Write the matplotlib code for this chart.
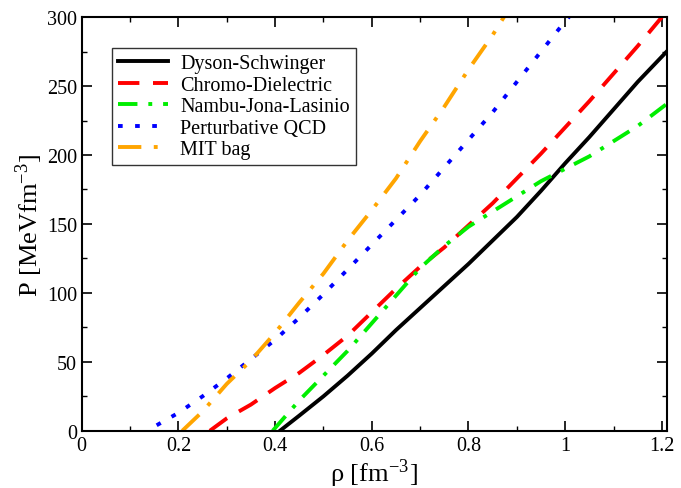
import matplotlib
matplotlib.use("Agg")
import matplotlib.pyplot as plt
import numpy as np

plt.rcParams["font.family"] = ["Liberation Serif", "DejaVu Serif"]
plt.rcParams["mathtext.fontset"] = "stix"

# Dyson-Schwinger
ds_rho = [0.41, 0.45, 0.5, 0.55, 0.6, 0.65, 0.7, 0.75, 0.8, 0.85, 0.9, 0.95,
          1.0, 1.05, 1.1, 1.15, 1.21]
ds_p = [0, 11, 25, 40, 56, 73, 89, 105, 121, 138, 155, 174,
        194, 213, 233, 253, 275]

# Chromo-Dielectric
cd_rho = [0.265, 0.3, 0.35, 0.4, 0.45, 0.5, 0.55, 0.6, 0.65, 0.7, 0.75, 0.8,
          0.85, 0.9, 0.95, 1.0, 1.05, 1.1, 1.15, 1.2]
cd_p = [0, 9, 19, 31, 42, 55, 69, 86, 103, 119, 133, 149,
        165, 183, 201, 220, 239, 259, 279, 300]

# Nambu-Jona-Lasinio
njl_rho = [0.395, 0.45, 0.5, 0.55, 0.6, 0.65, 0.7, 0.75, 0.8, 0.85, 0.9, 0.95,
           1.0, 1.05, 1.1, 1.15, 1.21]
njl_p = [0, 22, 40, 58, 78, 98, 118, 134, 148, 159, 170, 181,
         190, 199, 210, 221, 237]

# Perturbative QCD
pq_rho = [0.155, 0.2, 0.25, 0.3, 0.35, 0.4, 0.45, 0.5, 0.55, 0.6, 0.65, 0.7,
          0.75, 0.8, 0.85, 0.9, 0.95, 1.0, 1.01]
pq_p = [4, 13, 25, 38, 52, 66, 82, 99, 117, 135, 153, 171,
        191, 211, 231, 253, 275, 297, 301]

# MIT bag
mit_rho = [0.208, 0.25, 0.3, 0.35, 0.4, 0.45, 0.5, 0.55, 0.6, 0.65, 0.7, 0.75,
           0.8, 0.85, 0.875]
mit_p = [0, 14, 34, 51, 71, 93, 114, 138, 160, 183, 210, 235,
         262, 287, 301]

fig = plt.figure(figsize=(6.81, 4.89), dpi=100)
ax = fig.add_axes([0.120, 0.117, 0.859, 0.846])

ax.plot(ds_rho, ds_p, color="black", lw=2.8, label="Dyson-Schwinger")
ax.plot(cd_rho, cd_p, color="red", lw=2.8, dashes=(5.5, 3.5), label="Chromo-Dielectric")
ax.plot(njl_rho, njl_p, color="#00ee00", lw=2.8, dashes=(5, 2.8, 1, 2.8),
        label="Nambu-Jona-Lasinio")
ax.plot(pq_rho, pq_p, color="blue", lw=2.8, dashes=(1.2, 3.2), label="Perturbative QCD")
ax.plot(mit_rho, mit_p, color="orange", lw=2.8, dashes=(6, 3.2, 1, 3.2), label="MIT bag")

ax.set_xlim(0, 1.21)
ax.set_ylim(0, 300)
ax.set_xticks([0, 0.2, 0.4, 0.6, 0.8, 1.0, 1.2])
ax.set_xticklabels(["0", "0.2", "0.4", "0.6", "0.8", "1", "1.2"])
ax.set_xticks(np.arange(0.1, 1.2, 0.2), minor=True)
ax.set_yticks([0, 50, 100, 150, 200, 250, 300])
ax.set_yticks(np.arange(25, 300, 50), minor=True)
ax.tick_params(which="both", direction="in", top=True, right=True, labelsize=14.5)
ax.tick_params(which="major", length=7.5, width=1.2)
ax.tick_params(which="minor", length=3.8, width=1.0)
for s in ax.spines.values():
    s.set_linewidth(1.5)

ax.set_xlabel(r"ρ [fm$^{\mathregular{-3}}$]", fontsize=19, labelpad=1)
ax.set_ylabel(r"P [MeVfm$^{\mathregular{-3}}$]", fontsize=19, labelpad=1)

leg = ax.legend(loc="upper left", bbox_to_anchor=(0.051, 0.925), borderaxespad=0,
                fontsize=14.5, frameon=True, fancybox=False, edgecolor="#333333",
                handlelength=2.5, handletextpad=0.6, borderpad=0.3,
                labelspacing=0.12, framealpha=1)
leg.get_frame().set_linewidth(1.0)

fig.savefig("out.png", dpi=100)
